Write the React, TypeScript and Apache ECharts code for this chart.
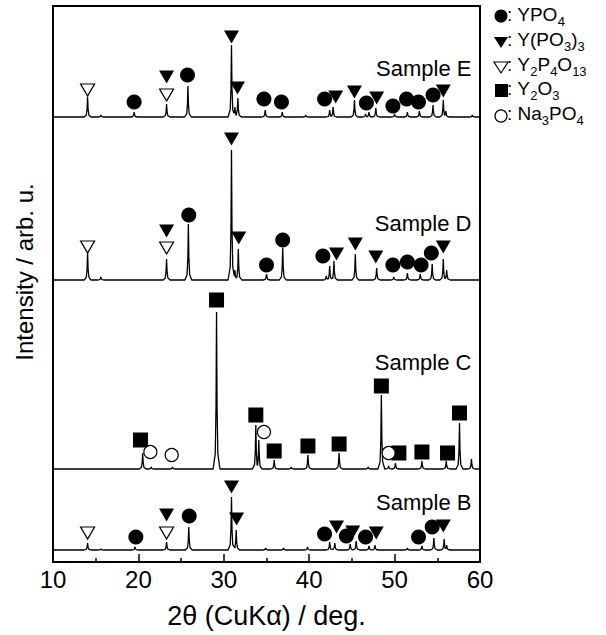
import React, { useEffect, useRef } from "react";
import * as echarts from "echarts";

// ---- Data (2θ in degrees, intensity in arbitrary stacked units) ----
const X_MIN = 10;
const X_MAX = 60;
const X_TICKS = [10, 20, 30, 40, 50, 60];

// baseline offsets of each stacked pattern
const OFFSET_E = 445;
const OFFSET_D = 282;
const OFFSET_C = 93;
const OFFSET_B = 12;

// peaks: [2θ, height]
const peaksE: [number, number][] = [
  [14.05, 20], [15.6, 2], [19.5, 5], [23.3, 13], [25.8, 31], [30.9, 72], [31.3, 10], [31.65, 19],
  [34.85, 7], [36.85, 5], [39.6, 2], [42.4, 7], [42.8, 10], [45.3, 17], [46.6, 3], [47.0, 5],
  [47.8, 9], [50.0, 3], [51.5, 5], [52.9, 6], [54.5, 12], [55.7, 17], [56.0, 6], [59.1, 2],
];
const peaksD: [number, number][] = [
  [14.05, 28], [15.6, 3], [23.3, 21], [25.85, 56], [30.9, 130], [31.3, 10], [31.7, 31],
  [35.0, 6], [36.9, 32], [42.0, 4], [42.4, 14], [42.9, 19], [45.4, 26], [47.9, 12],
  [49.9, 3], [51.5, 7], [53.0, 6], [54.4, 16], [55.7, 21], [56.1, 10],
];
const peaksC: [number, number][] = [
  [20.5, 16], [21.5, 2], [24.0, 2], [29.15, 157], [33.75, 44], [34.1, 29], [35.9, 9],
  [37.9, 2], [39.85, 14], [43.5, 16], [46.9, 2], [48.45, 74], [49.3, 3], [50.1, 6],
  [53.2, 8], [56.05, 8], [57.6, 46], [59.0, 10],
];
const peaksB: [number, number][] = [
  [14.05, 7], [15.6, 1], [19.6, 3], [23.3, 8], [25.9, 23], [30.9, 53], [31.45, 20],
  [34.9, 2], [37.0, 2], [39.8, 3], [42.4, 8], [43.0, 7], [44.8, 6], [45.5, 9], [47.0, 4],
  [47.7, 5], [51.5, 2], [53.2, 4], [54.6, 12], [55.8, 11], [56.1, 5],
];

// phase markers: [2θ, vertical position]
const ypo4E: [number, number][] = [
  [19.5, 460], [25.75, 487], [34.7, 463], [36.75, 460], [41.8, 463], [46.7, 459],
  [49.8, 456], [51.4, 463], [52.8, 460], [54.5, 467],
];
const ypo3E: [number, number][] = [
  [23.3, 485], [30.9, 525], [31.6, 474], [43.1, 465], [45.3, 470], [47.9, 464], [55.7, 471],
];
const y2p4o13E: [number, number][] = [[14.05, 472], [23.3, 467]];

const ypo4D: [number, number][] = [
  [25.9, 347], [35.0, 297], [36.9, 322], [41.6, 306], [49.8, 297], [51.5, 300],
  [53.1, 297], [54.3, 309],
];
const ypo3D: [number, number][] = [
  [23.3, 331], [30.9, 423], [31.75, 324], [43.2, 308], [45.4, 318], [47.8, 305], [55.7, 315],
];
const y2p4o13D: [number, number][] = [[14.05, 315], [23.3, 314]];

const y2o3C: [number, number][] = [
  [20.25, 122], [29.15, 262], [33.75, 147], [35.9, 111], [39.85, 116], [43.5, 118],
  [48.45, 176], [50.5, 109], [53.2, 110], [56.2, 109], [57.6, 149],
];
const na3po4C: [number, number][] = [[21.4, 110], [23.9, 107], [34.7, 130], [49.3, 109]];

const ypo4B: [number, number][] = [
  [19.7, 25], [25.95, 46], [41.8, 28], [44.35, 26], [46.6, 25], [52.8, 25], [54.4, 35],
];
const ypo3B: [number, number][] = [
  [23.3, 47], [30.9, 75], [31.5, 43], [43.2, 35], [45.1, 30], [47.85, 29], [55.7, 36],
];
const y2p4o13B: [number, number][] = [[14.05, 29], [23.3, 29]];

const sampleLabels = [
  { name: "Sample E", value: [59.0, 494] },
  { name: "Sample D", value: [59.0, 339] },
  { name: "Sample C", value: [59.0, 200] },
  { name: "Sample B", value: [59.0, 60] },
];

// peak profile (style of the drawn peak)
const SHAPE_DX = [-0.4, -0.15, -0.06, 0, 0.06, 0.15, 0.4];
const SHAPE_F = [0, 0.1, 0.4, 1, 0.4, 0.1, 0];

function shapeAt(d: number): number {
  if (d <= SHAPE_DX[0] || d >= SHAPE_DX[SHAPE_DX.length - 1]) return 0;
  for (let i = 0; i < SHAPE_DX.length - 1; i++) {
    const a = SHAPE_DX[i], b = SHAPE_DX[i + 1];
    if (d >= a && d <= b) {
      const t = (d - a) / (b - a);
      return SHAPE_F[i] + t * (SHAPE_F[i + 1] - SHAPE_F[i]);
    }
  }
  return 0;
}

function buildPattern(peaks: [number, number][], offset: number): [number, number][] {
  const xs = new Set<number>([X_MIN, X_MAX]);
  peaks.forEach(([p]) => SHAPE_DX.forEach((d) => xs.add(+(p + d).toFixed(3))));
  const sorted = Array.from(xs).filter((x) => x >= X_MIN && x <= X_MAX).sort((a, b) => a - b);
  return sorted.map((x) => {
    let y = 0;
    for (const [p, h] of peaks) {
      const v = shapeAt(x - p) * h;
      if (v > y) y = v;
    }
    return [x, offset + y];
  });
}

const FONT = "'Liberation Sans', Arial, Helvetica, sans-serif";

export default function App() {
  const ref = useRef<HTMLDivElement>(null);

  useEffect(() => {
    document.body.style.margin = "0";
    if (!ref.current) return;
    const chart = echarts.init(ref.current, undefined, { renderer: "svg" });

    const lineSeries = (data: [number, number][]) => ({
      type: "line",
      data,
      showSymbol: false,
      symbol: "none",
      lineStyle: { color: "#000", width: 1.3 },
      z: 2,
      silent: true,
    });

    const circleS = (data: [number, number][]) => ({
      type: "scatter", data, symbol: "circle", symbolSize: 15,
      itemStyle: { color: "#000", opacity: 1 }, z: 5, silent: true,
    });
    const downTriS = (data: [number, number][]) => ({
      type: "scatter", data, symbol: "triangle", symbolSize: [15, 13], symbolRotate: 180,
      itemStyle: { color: "#000", opacity: 1 }, z: 5, silent: true,
    });
    const openTriS = (data: [number, number][]) => ({
      type: "scatter", data, symbol: "triangle", symbolSize: [14, 12], symbolRotate: 180,
      itemStyle: { color: "#fff", borderColor: "#000", borderWidth: 1.2, opacity: 1 }, z: 5, silent: true,
    });

    const legendRich = {
      n: { fontSize: 19, fontFamily: FONT, color: "#000", lineHeight: 26, verticalAlign: "middle" },
      s: { fontSize: 13, fontFamily: FONT, color: "#000", lineHeight: 26, verticalAlign: "bottom" },
    };
    const legendText = (y: number, text: string) => ({
      type: "text",
      left: 507,
      top: y - 13,
      style: { text, rich: legendRich, fill: "#000" },
      silent: true,
    });

    chart.setOption({
      animation: false,
      grid: {
        left: 53, right: 126, top: 6, bottom: 73,
        show: true, borderColor: "#000", borderWidth: 2,
      },
      xAxis: {
        type: "value",
        min: X_MIN, max: X_MAX, interval: 10,
        name: "2θ (CuKα) / deg.",
        nameLocation: "middle",
        nameGap: 40,
        nameTextStyle: { fontSize: 27, fontFamily: FONT, color: "#000" },
        axisLine: { show: true, lineStyle: { color: "#000", width: 2 } },
        axisTick: { show: true, inside: true, length: 8, lineStyle: { color: "#000", width: 1.5 } },
        minorTick: { show: true, splitNumber: 2, length: 4, lineStyle: { color: "#000", width: 1.5 } },
        splitLine: { show: false },
        axisLabel: {
          fontSize: 24, fontFamily: FONT, color: "#000", margin: 5,
          formatter: (v: number) => (X_TICKS.includes(v) ? String(v) : ""),
        },
      },
      yAxis: {
        type: "value",
        min: 0, max: 556,
        name: "Intensity / arb. u.",
        nameLocation: "middle",
        nameGap: 17,
        nameTextStyle: { fontSize: 24, fontFamily: FONT, color: "#000", padding: [0, 0, 0, 24] },
        axisLine: { show: true, lineStyle: { color: "#000", width: 2 } },
        axisTick: { show: false },
        axisLabel: { show: false },
        splitLine: { show: false },
      },
      series: [
        lineSeries(buildPattern(peaksE, OFFSET_E)),
        lineSeries(buildPattern(peaksD, OFFSET_D)),
        lineSeries(buildPattern(peaksC, OFFSET_C)),
        lineSeries(buildPattern(peaksB, OFFSET_B)),
        circleS(ypo4E), circleS(ypo4D), circleS(ypo4B),
        downTriS(ypo3E), downTriS(ypo3D), downTriS(ypo3B),
        openTriS(y2p4o13E), openTriS(y2p4o13D), openTriS(y2p4o13B),
        {
          type: "scatter", data: y2o3C, symbol: "rect", symbolSize: 15,
          itemStyle: { color: "#000", opacity: 1 }, z: 5, silent: true,
        },
        {
          type: "scatter", data: na3po4C, symbol: "circle", symbolSize: 13,
          itemStyle: { color: "#fff", borderColor: "#000", borderWidth: 1.2, opacity: 1 }, z: 6, silent: true,
        },
        {
          type: "scatter",
          data: sampleLabels,
          symbolSize: 0,
          silent: true,
          itemStyle: { opacity: 1 },
          label: {
            show: true,
            position: "left",
            distance: 0,
            formatter: (p: any) => p.name,
            fontSize: 22,
            fontFamily: FONT,
            color: "#000",
          },
          z: 7,
        },
      ],
      graphic: [
        { type: "circle", shape: { cx: 501, cy: 16, r: 6.5 }, style: { fill: "#000" }, silent: true },
        legendText(18, "{n|: YPO}{s|4}"),
        { type: "polygon", shape: { points: [[494, 37], [508, 37], [501, 48]] }, style: { fill: "#000" }, silent: true },
        legendText(43, "{n|: Y(PO}{s|3}{n|)}{s|3}"),
        {
          type: "polygon", shape: { points: [[494, 62], [508, 62], [501, 73]] },
          style: { fill: "#fff", stroke: "#000", lineWidth: 1.2 }, silent: true,
        },
        legendText(68, "{n|: Y}{s|2}{n|P}{s|4}{n|O}{s|13}"),
        { type: "rect", shape: { x: 495, y: 84, width: 13, height: 13 }, style: { fill: "#000" }, silent: true },
        legendText(92, "{n|: Y}{s|2}{n|O}{s|3}"),
        {
          type: "circle", shape: { cx: 501, cy: 116, r: 6 },
          style: { fill: "#fff", stroke: "#000", lineWidth: 1.2 }, silent: true,
        },
        legendText(117, "{n|: Na}{s|3}{n|PO}{s|4}"),
      ],
    });

    return () => chart.dispose();
  }, []);

  return <div ref={ref} style={{ width: 606, height: 635 }} />;
}
